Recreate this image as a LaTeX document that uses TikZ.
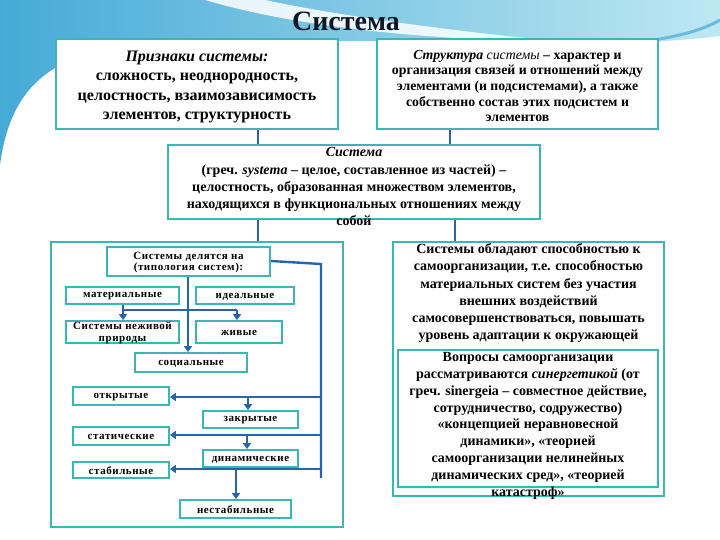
\documentclass[tikz,border=0pt]{standalone}
\usepackage{fontspec}
\setmainfont{Liberation Serif}
\usetikzlibrary{arrows.meta,calc,fit}
\definecolor{tealb}{RGB}{58,182,180}
\definecolor{conb}{RGB}{40,100,170}
\definecolor{bgdark}{RGB}{70,170,215}
\definecolor{bglight}{RGB}{190,232,242}
\definecolor{titlec}{RGB}{12,24,40}
\newcommand{\myfs}[2]{\fontsize{#1}{#2}\selectfont}
\tikzset{
  bx/.style={draw=tealb, line width=2pt, fill=white, inner sep=0pt},
  sbx/.style={draw=tealb, line width=1.8pt, fill=white, inner sep=0pt},
  txt/.style={inner sep=0pt, align=center, anchor=north, font=\bfseries},
  lbl/.style={inner sep=0pt, align=center, yshift=-1pt, font=\bfseries\myfs{11}{11.5}\addfontfeature{LetterSpace=5}},
  con/.style={draw=conb, line width=2.4pt},
  arr/.style={con, -{Triangle[width=8pt,length=6pt]}}
}
\begin{document}
\begin{tikzpicture}[x=1pt,y=-1pt]
\useasboundingbox (0,0) rectangle (720,540);
\fill[white] (0,0) rectangle (720,540);
% background swoosh
\shade[left color=bgdark, right color=bglight] (0,0) -- (720,0) -- (720,36)
  .. controls (640,46) and (540,44) .. (450,42)
  .. controls (300,40) and (120,38) .. (55,68)
  .. controls (22,88) and (6,120) .. (0,165) -- cycle;
\fill[white, opacity=0.85] (205,0) .. controls (300,28) and (430,40) .. (565,42)
  .. controls (440,30) and (330,14) .. (265,0) -- cycle;
\draw[line width=3pt, color=bgdark!80] (610,44) .. controls (660,42) and (700,32) .. (720,20);
% title
\node[inner sep=0pt, font=\bfseries\myfs{28}{30}, text=titlec] (title) at (346,21) {Система};
% top boxes
\node[bx, fit={(56,39) (338,129)}] (tl) {};
\node[bx, fit={(377,39) (658,129)}] (tr) {};
\node[txt, font=\bfseries\myfs{16}{19.2}] (tlt) at (197,51) {\textit{Признаки системы:}\\сложность, неоднородность,\\целостность, взаимозависимость\\элементов, структурность};
\node[txt, font=\bfseries\myfs{13.8}{15.6}] (trt) at (517.5,50) {\textit{Структура} \textit{\mdseries системы} – характер и\\организация связей и отношений между\\элементами (и подсистемами), а также\\собственно состав этих подсистем и\\элементов};
% central box
\node[bx, fit={(168,145) (540,219)}] (cen) {};
\node[txt, font=\bfseries\myfs{14}{17.2}] (cent) at (354,147.5) {\textit{Система}\\(греч. \textit{systema} – целое, составленное из частей) –\\целостность, образованная множеством элементов,\\находящихся в функциональных отношениях между\\собой};
% connectors top
\coordinate (xa) at (258,0);
\coordinate (xb) at (450,0);
\coordinate (xc) at (455,0);
\draw[con] (xa |- tl.south) -- (xa |- cen.north);
\draw[con] (xb |- tr.south) -- (xb |- cen.north);
% left big box
\node[bx, fit={(51,242) (343,527)}] (lb) {};
% right boxes
\node[bx, fit={(393,242) (664,496)}] (rb) {};
\draw[con] (xa |- cen.south) -- (xa |- lb.north);
\draw[con] (xc |- cen.south) -- (xc |- rb.north);
\node[txt, font=\bfseries\myfs{14}{17.2}] (rbt) at (528.5,243.5) {Системы обладают способностью к\\самоорганизации, т.е. способностью\\материальных систем без участия\\внешних воздействий\\самосовершенствоваться, повышать\\уровень адаптации к окружающей\\среде.};
\node[bx, fit={(398,350) (658,487)}] (rb2) {};
\node[txt, font=\bfseries\myfs{14}{16.9}] (rb2t) at (528,352) {Вопросы самоорганизации\\рассматриваются \textit{синергетикой} (от\\греч. sinergeia – совместное действие,\\сотрудничество, содружество)\\«концепцией неравновесной\\динамики», «теорией\\самоорганизации нелинейных\\динамических сред», «теорией\\катастроф»};
% small boxes
\node[sbx, fit={(107,247) (270,276)}] (typ) {};
\node[lbl] at (typ.center) {Системы делятся на\\(типология систем):};
\node[sbx, fit={(66,287) (179,304)}] (mat) {};
\node[lbl] at (mat.center) {материальные};
\node[sbx, fit={(196,287) (294,304)}] (ide) {};
\node[lbl] at (ide.center) {идеальные};
\node[sbx, fit={(66,321) (179,343)}] (nezh) {};
\node[lbl] at (nezh.center) {Системы неживой\\природы};
\node[sbx, fit={(196,321) (282,343)}] (zhiv) {};
\node[lbl] at (zhiv.center) {живые};
\node[sbx, fit={(135,353) (247,372)}] (soc) {};
\node[lbl] at (soc.center) {социальные};
\node[sbx, fit={(73,387) (169,405)}] (otk) {};
\node[lbl] at (otk.center) {открытые};
\node[sbx, fit={(203,411) (298,428)}] (zak) {};
\node[lbl] at (zak.center) {закрытые};
\node[sbx, fit={(73,427) (169,445)}] (stat) {};
\node[lbl] at (stat.center) {статические};
\node[sbx, fit={(203,450) (298,467)}] (din) {};
\node[lbl] at (din.center) {динамические};
\node[sbx, fit={(73,462) (169,478)}] (stab) {};
\node[lbl] at (stab.center) {стабильные};
\node[sbx, fit={(180,500) (291,518)}] (nest) {};
\node[lbl] at (nest.center) {нестабильные};
% typology connectors
\coordinate (hl) at (123,310);
\coordinate (hr) at (237,310);
\coordinate (xm) at (188,0);
\draw[arr] (xm |- typ.south) -- (xm |- soc.north);
\draw[con] (hl) -- (hr);
\draw[arr] (hl |- mat.south) -- (hl |- nezh.north);
\draw[arr] (hr) -- (hr |- zhiv.north);
% right trunk
\coordinate (t0) at (321,264);
\coordinate (t1) at (321,478);
\draw[con] (typ.east |- 0,261) -- (t0) -- (t1);
\coordinate (y1) at (321,397);
\coordinate (y2) at (321,435);
\coordinate (y3) at (321,469);
\draw[arr] (y1) -- (y1 -| otk.east);
\draw[arr] (y2) -- (y2 -| stat.east);
\draw[arr] (y3) -- (y3 -| stab.east);
\coordinate (d1) at (248,397);
\coordinate (d2) at (247,435);
\coordinate (d3) at (236,469);
\draw[arr] (d1) -- (d1 |- zak.north);
\draw[arr] (d2) -- (d2 |- din.north);
\draw[arr] (d3) -- (d3 |- nest.north);
\end{tikzpicture}
\end{document}
